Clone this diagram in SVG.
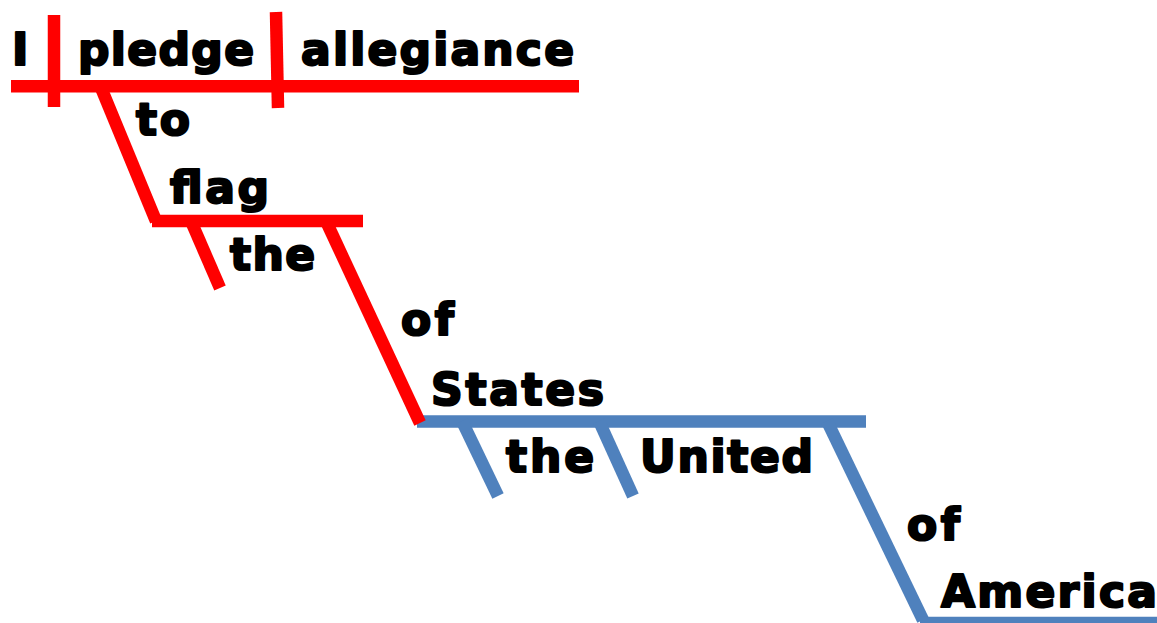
<svg xmlns="http://www.w3.org/2000/svg" width="1157" height="623" viewBox="0 0 1157 623">
  <style>
    .w { font-family: "DejaVu Sans", "Liberation Sans", sans-serif; font-weight: bold; font-size: 44px; fill: #000; stroke: #000; stroke-width: 2.2px; stroke-linejoin: round; }
    .r { stroke: #FF0000; stroke-width: 12.5; fill: none; stroke-linecap: butt; }
    .b { stroke: #4F81BD; stroke-width: 12.5; fill: none; stroke-linecap: butt; }
  </style>
  <rect width="1157" height="623" fill="#fff"/>
  <g id="connectors">
    <line class="b" x1="417" y1="421.5" x2="866" y2="421.5"/>
    <line class="b" x1="462" y1="421" x2="498" y2="496"/>
    <line class="b" x1="599" y1="421" x2="633" y2="496"/>
    <line class="b" x1="827" y1="421" x2="923" y2="620"/>
    <line class="b" x1="920" y1="623" x2="1157" y2="623"/>
    <line class="r" x1="11" y1="86.3" x2="579" y2="86.3"/>
    <line class="r" x1="54" y1="15" x2="54" y2="107"/>
    <line class="r" x1="276" y1="12" x2="278" y2="108"/>
    <line class="r" x1="99.5" y1="84" x2="156" y2="221"/>
    <line class="r" x1="152" y1="221" x2="363" y2="221"/>
    <line class="r" x1="191" y1="221" x2="220" y2="288"/>
    <line class="r" x1="326" y1="221" x2="420" y2="423"/>
  </g>
  <g id="node-I"><text class="w" x="12" y="65">I</text></g>
  <g id="node-pledge"><text class="w" x="78" y="65" textLength="176" lengthAdjust="spacing">pledge</text></g>
  <g id="node-allegiance"><text class="w" x="301" y="65" textLength="273" lengthAdjust="spacing">allegiance</text></g>
  <g id="node-to"><text class="w" x="136" y="135" textLength="54" lengthAdjust="spacing">to</text></g>
  <g id="node-flag"><text class="w" x="170" y="203" textLength="99" lengthAdjust="spacing">flag</text></g>
  <g id="node-the1"><text class="w" x="230" y="270" textLength="85" lengthAdjust="spacing">the</text></g>
  <g id="node-of1"><text class="w" x="401" y="335" textLength="53" lengthAdjust="spacing">of</text></g>
  <g id="node-States"><text class="w" x="431" y="405" textLength="173" lengthAdjust="spacing">States</text></g>
  <g id="node-the2"><text class="w" x="506" y="472" textLength="88" lengthAdjust="spacing">the</text></g>
  <g id="node-United"><text class="w" x="640" y="472" textLength="173" lengthAdjust="spacing">United</text></g>
  <g id="node-of2"><text class="w" x="907" y="540" textLength="53" lengthAdjust="spacing">of</text></g>
  <g id="node-America"><text class="w" x="941" y="607" textLength="216" lengthAdjust="spacing">America</text></g>
</svg>
